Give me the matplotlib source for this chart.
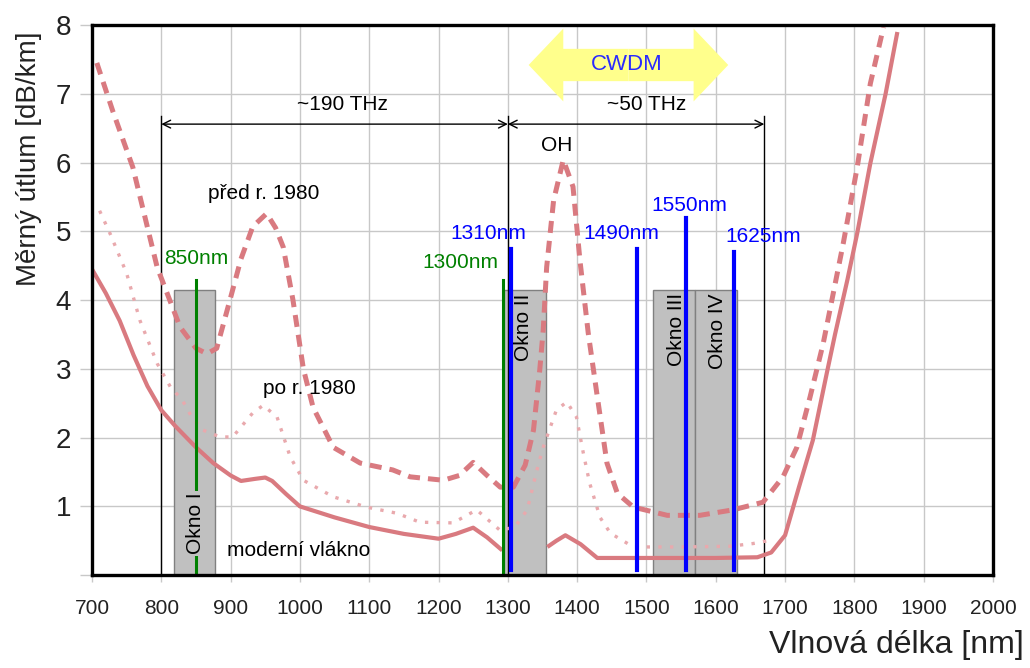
import matplotlib
matplotlib.use('Agg')
import matplotlib.pyplot as plt
import numpy as np

plt.rcParams['font.family'] = ['Liberation Sans', 'DejaVu Sans']

# ======================== Data ========================
# moderní vlákno (solid), gap where Okno II hides it
SOLID_NM = [700, 720, 740, 760, 780, 800, 820, 850, 875, 900, 915, 935, 950,
            960, 980, 1000, 1050, 1100, 1150, 1200, 1225, 1250, 1270, 1292,
            1330, 1357, 1370, 1383, 1405, 1429, 1500, 1600, 1660, 1680, 1700,
            1720, 1740, 1760, 1772, 1790, 1804, 1823, 1845, 1862]
SOLID_DB = [4.45, 4.1, 3.7, 3.2, 2.75, 2.4, 2.17, 1.86, 1.63, 1.45, 1.37, 1.4,
            1.42, 1.37, 1.18, 1.0, 0.84, 0.7, 0.6, 0.53, 0.6, 0.69, 0.55, 0.36,
            np.nan, 0.41, 0.5, 0.58, 0.45, 0.25, 0.25, 0.25, 0.26, 0.33, 0.58,
            1.28, 1.96, 2.93, 3.5, 4.3, 4.97, 5.99, 7.0, 7.9]

# před r. 1980 (dashed)
DASH_NM = [707, 730, 759, 794, 827, 850, 866, 880, 899, 915, 932, 952, 965,
           976, 990, 1005, 1019, 1048, 1087, 1134, 1159, 1207, 1230, 1250,
           1270, 1289, 1308, 1325, 1337, 1346, 1351, 1356, 1366, 1380, 1394,
           1404, 1416, 1429, 1443, 1458, 1481, 1530, 1577, 1625, 1668, 1697,
           1717, 1736, 1755, 1784, 1804, 1823, 1842]
DASH_DB = [7.45, 6.75, 5.93, 4.48, 3.61, 3.3, 3.22, 3.3, 4.0, 4.6, 5.07, 5.26,
           5.05, 4.77, 4.0, 3.0, 2.44, 1.86, 1.63, 1.53, 1.43, 1.38, 1.45,
           1.64, 1.45, 1.28, 1.28, 1.6, 2.11, 2.98, 3.56, 4.48, 5.45, 6.04,
           5.65, 4.58, 3.52, 2.6, 1.63, 1.19, 0.99, 0.87, 0.87, 0.95, 1.06,
           1.43, 1.86, 2.59, 3.37, 4.83, 5.93, 7.15, 7.97]

# po r. 1980 (dotted)
DOT_NM = [711, 726, 750, 769, 794, 813, 830, 844, 860, 885, 903, 932, 947, 967,
          986, 1005, 1048, 1096, 1140, 1173, 1221, 1255, 1289, 1310, 1328, 1342,
          1351, 1370, 1385, 1399, 1409, 1418, 1433, 1448, 1481, 1550, 1620,
          1654, 1675]
DOT_DB = [5.3, 4.97, 4.39, 3.71, 3.08, 2.74, 2.55, 2.3, 2.11, 2.01, 2.01, 2.36,
          2.47, 2.3, 1.72, 1.38, 1.14, 0.99, 0.9, 0.77, 0.76, 0.95, 0.65, 0.7,
          0.95, 1.53, 1.86, 2.4, 2.52, 2.3, 1.77, 1.34, 0.84, 0.61, 0.41, 0.41,
          0.42, 0.46, 0.5]

# transmission windows (gray boxes)
WINDOW_LABELS = ['Okno I', 'Okno II', 'Okno III', 'Okno IV']
WINDOW_START = [818, 1295, 1510, 1570]
WINDOW_END = [878, 1355, 1570, 1630]
WINDOW_TOP = 4.15

# marked wavelengths
GREEN_LABELS = ['850nm', '1300nm']
GREEN_POS = [850, 1293]
GREEN_TOP = [4.3, 4.3]
BLUE_LABELS = ['1310nm', '1490nm', '1550nm', '1625nm']
BLUE_POS = [1305, 1487, 1557, 1627]
BLUE_TOP = [4.75, 4.74, 5.2, 4.7]

# frequency bands
BAND_EDGES = [800, 1300, 1670]
BAND_LABELS = ['~190 THz', '~50 THz']
CWDM_RANGE = [1330, 1618]

XTICKS = list(range(700, 2001, 100))
YTICKS = list(range(0, 9))
YTICK_LABELS = [''] + [str(v) for v in YTICKS[1:]]

PINK = '#d97a80'
PINK_LIGHT = '#e9a9ad'

# ======================== Figure ========================
fig = plt.figure(figsize=(10.3, 6.68), dpi=100)
ax = fig.add_axes([0.0893, 0.139, 0.8748, 0.8234])
ax.set_xlim(700, 2000)
ax.set_ylim(0, 8)

ax.set_xticks(XTICKS)
ax.set_yticks(YTICKS)
ax.set_yticklabels(YTICK_LABELS)
ax.grid(True, color='#c8c8c8', lw=1.0, zorder=0)
ax.set_axisbelow(True)
ax.tick_params(axis='x', length=5, width=1, color='#c8c8c8', pad=12,
               labelsize=15, labelcolor='#222222')
ax.tick_params(axis='y', length=9, width=1, color='#c8c8c8', pad=6,
               labelsize=20, labelcolor='#222222')
for s in ax.spines.values():
    s.set_linewidth(2.4)
    s.set_color('black')
    s.set_zorder(6)

# --- windows ---
for lab, x0, x1 in zip(WINDOW_LABELS, WINDOW_START, WINDOW_END):
    ax.add_patch(plt.Rectangle((x0, 0), x1 - x0, WINDOW_TOP, facecolor='#c0c0c0',
                               edgecolor='#808080', lw=1.0, zorder=1))

# --- dimension lines ---
for xe in BAND_EDGES:
    ax.plot([xe, xe], [0, 6.68], color='black', lw=1.0, zorder=2)
for (xa, xb), lab in zip(zip(BAND_EDGES[:-1], BAND_EDGES[1:]), BAND_LABELS):
    ax.annotate('', xy=(xa, 6.56), xytext=(xb, 6.56),
                arrowprops=dict(arrowstyle='<->', lw=1.0, color='black',
                                shrinkA=0, shrinkB=0, mutation_scale=14))
ax.text(1062, 6.84, BAND_LABELS[0], ha='center', va='center', fontsize=15)
ax.text(1500, 6.84, BAND_LABELS[1], ha='center', va='center', fontsize=15)

# --- CWDM double arrow ---
mid = (CWDM_RANGE[0] + CWDM_RANGE[1]) / 2
half = (CWDM_RANGE[1] - CWDM_RANGE[0]) / 2
for sign in (1, -1):
    ax.arrow(mid, 7.42, sign * half, 0, width=0.47, head_width=1.06,
             head_length=50, length_includes_head=True, facecolor='#ffff8c',
             edgecolor='none', zorder=2)
ax.text(1472, 7.42, 'CWDM', color='#2a2aff', ha='center', va='center',
        fontsize=16, zorder=3)

# --- attenuation curves ---
ax.plot(DASH_NM, DASH_DB, color=PINK, lw=3.6, linestyle=(0, (2.4, 1.6)),
        zorder=3, clip_on=True)
ax.plot(DOT_NM, DOT_DB, color=PINK_LIGHT, lw=2.4, linestyle=(0, (1, 2.5)),
        zorder=3)
ax.plot(SOLID_NM, SOLID_DB, color=PINK, lw=3.0, zorder=3, solid_capstyle='butt')

# --- wavelength markers ---
for lab, x, top in zip(GREEN_LABELS, GREEN_POS, GREEN_TOP):
    ax.plot([x, x], [0, top], color='#008000', lw=2.2, zorder=4)
ax.text(850, 4.6, GREEN_LABELS[0], color='#008000', ha='center', va='center',
        fontsize=15, zorder=5)
ax.text(1286, 4.55, GREEN_LABELS[1], color='#008000', ha='right', va='center',
        fontsize=15, zorder=5)

for x, top in zip(BLUE_POS, BLUE_TOP):
    ax.plot([x, x], [0.07, top], color='#0000ff', lw=3.0, zorder=4)
blue_text_x = [1272, 1463, 1562, 1669]
blue_text_y = [4.97, 4.97, 5.37, 4.93]
for lab, tx, ty in zip(BLUE_LABELS, blue_text_x, blue_text_y):
    ax.text(tx, ty, lab, color='#0000ff', ha='center', va='center',
            fontsize=15, zorder=5)

# --- window labels ---
ax.text(850, 0.75, WINDOW_LABELS[0], rotation=90, ha='center', va='center',
        fontsize=15, zorder=5,
        bbox=dict(facecolor='#c0c0c0', edgecolor='none', pad=1.5))
win_text_x = [1323, 1544, 1602]
for lab, tx in zip(WINDOW_LABELS[1:], win_text_x):
    ax.text(tx, 4.1, lab, rotation=90, ha='center', va='top', fontsize=15,
            zorder=5)

# --- curve labels ---
ax.text(948, 5.55, 'před r. 1980', ha='center', va='center', fontsize=15, zorder=5)
ax.text(1013, 2.72, 'po r. 1980', ha='center', va='center', fontsize=15, zorder=5)
ax.text(998, 0.36, 'moderní vlákno', ha='center', va='center', fontsize=15,
        zorder=5)
ax.text(1371, 6.25, 'OH', ha='center', va='center', fontsize=15, zorder=5)

# --- axis titles ---
fig.text(0.028, 0.763, 'Měrný útlum [dB/km]', rotation=90, ha='center',
         va='center', fontsize=20, color='#222222')
fig.text(0.994, 0.034, 'Vlnová délka [nm]', ha='right', va='center',
         fontsize=23, color='#222222')

fig.savefig('out.png', dpi=100)
